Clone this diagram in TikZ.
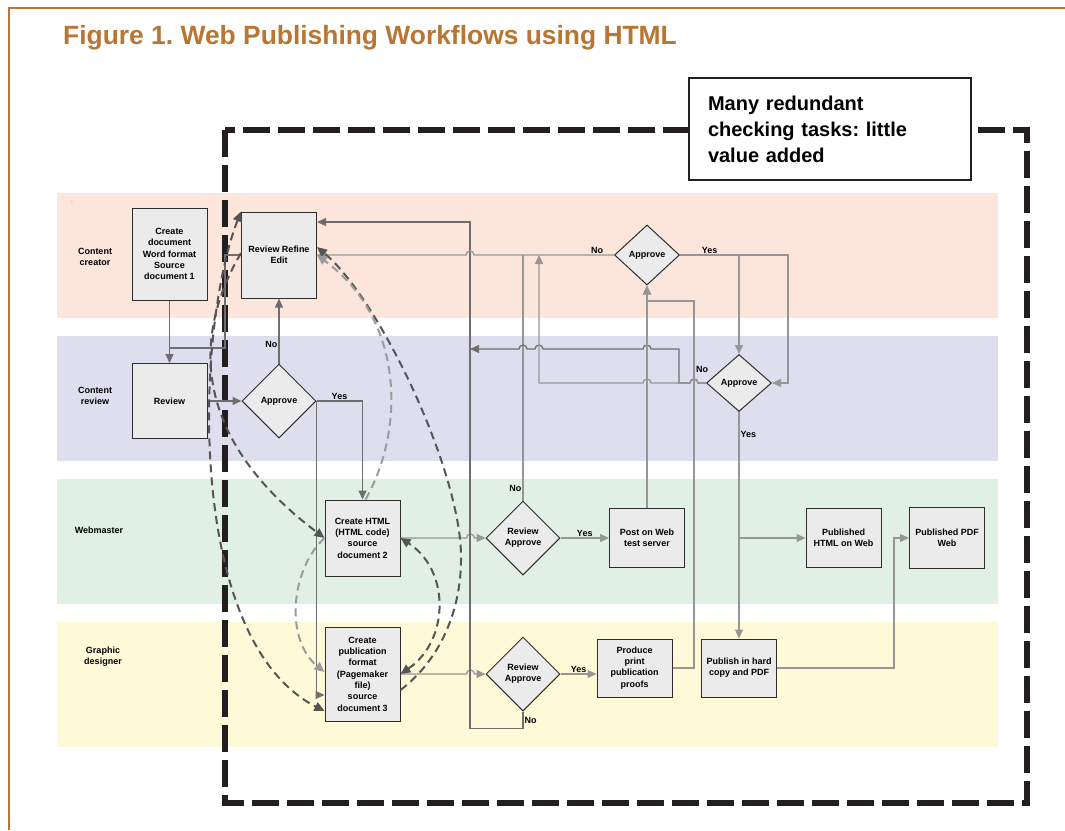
\documentclass[tikz,border=0pt]{standalone}
\usepackage{fontspec}
\setmainfont{Liberation Sans}
\frenchspacing
\usetikzlibrary{shapes.geometric,arrows.meta}

\definecolor{figbrown}{RGB}{185,117,50}
\definecolor{laneA}{RGB}{252,229,218}
\definecolor{laneB}{RGB}{223,222,238}
\definecolor{laneC}{RGB}{224,240,228}
\definecolor{laneD}{RGB}{254,249,214}
\definecolor{boxfill}{RGB}{235,235,235}
\definecolor{boxline}{RGB}{45,45,45}
\definecolor{linedk}{RGB}{110,110,110}
\definecolor{linelt}{RGB}{150,150,150}
\definecolor{curvedk}{RGB}{85,85,85}
\definecolor{curvelt}{RGB}{155,155,155}
\definecolor{framedk}{RGB}{35,31,32}

\begin{document}
\begin{tikzpicture}[x=1pt, y=-1pt, >={Triangle[length=9pt,width=8pt]},
  box/.style = {draw=boxline, fill=boxfill, line width=1pt, minimum width=75pt,
    align=center, inner sep=1pt, font=\fontsize{9}{11.3}\selectfont\bfseries},
  choice/.style = {diamond, draw=boxline, fill=boxfill, line width=1pt, minimum width=74pt,
    minimum height=74pt, inner sep=0pt, align=center, font=\fontsize{9}{11.3}\selectfont\bfseries},
  lbl/.style = {inner sep=1pt, align=center, font=\fontsize{9}{11.3}\selectfont\bfseries},
  flow/.style = {line width=1.3pt, draw=linedk, ->},
  flowlt/.style = {line width=1.3pt, draw=linelt, ->},
  loopdk/.style = {line width=2pt, draw=curvedk, dash pattern=on 8pt off 5pt,
    >={Triangle[length=10pt,width=9pt]}},
  looplt/.style = {line width=2pt, draw=curvelt, dash pattern=on 8pt off 5pt,
    >={Triangle[length=10pt,width=9pt]}}]

\useasboundingbox (0,0) rectangle (1065,830);
\fill[white] (0,0) rectangle (1065,830);
\draw[figbrown, line width=2pt] (9,830) -- (9,7.5) -- (1065,7.5);

\node[anchor=base west, text=figbrown, inner sep=0pt, font=\fontsize{26.4}{30}\selectfont\bfseries]
  (title) at (63,44.5) {Figure 1. Web Publishing Workflows using HTML};

\fill[laneA] (57,193) rectangle (998,318);
\fill[laneB] (57,336) rectangle (998,461);
\fill[laneC] (57,479) rectangle (998,604);
\fill[laneD] (57,622) rectangle (998,747);

\node[lbl] (creator) at (95,257) {Content\\creator};
\node[lbl] (reviewer) at (95,396) {Content\\review};
\node[lbl] (webmaster) at (99,530) {Webmaster};
\node[lbl] (designer) at (103,657) {Graphic\\designer};
\node[lbl, font=\fontsize{5}{5}\selectfont] (dot) at (72,202) {.};

\draw[framedk, line width=6.5pt, dash pattern=on 27pt off 8pt] (225,130) rectangle (1027,803);

\node[box, minimum height=92pt] (create1) at (169.5,254) {Create\\document\\Word format\\Source\\document 1};
\node[box, minimum height=86pt] (refine) at (279,255) {Review Refine\\Edit};
\node[box, minimum height=75pt] (review) at (169.5,401) {Review};
\node[choice] (approve1) at (279,401) {Approve};
\node[box, minimum height=76pt] (html) at (362.5,538) {Create HTML\\(HTML code)\\source\\document 2};
\node[box, minimum height=94pt] (pub) at (362.5,674) {Create\\publication\\format\\(Pagemaker\\file)\\source\\document 3};
\node[choice] (rev2) at (523,538) {Review\\Approve};
\node[choice] (rev3) at (523,674) {Review\\Approve};
\node[box, minimum height=59pt] (post) at (647,538) {Post on Web\\test server};
\node[box, minimum height=58pt] (proofs) at (634.5,668) {Produce\\print\\publication\\proofs};
\node[choice, minimum width=65pt, minimum height=60pt] (approve2) at (647,255) {Approve};
\node[choice, minimum width=65pt, minimum height=57pt] (approve3) at (739,383) {Approve};
\node[box, minimum height=58pt] (hard) at (739,668) {Publish in hard\\copy and PDF};
\node[box, minimum height=59pt] (pubhtml) at (843.5,538) {Published\\HTML on Web};
\node[box, minimum height=61pt] (pubpdf) at (947,538) {Published PDF\\Web};

\coordinate (c1) at (169.5,348);
\coordinate (j1) at (539,255);

\draw[flow] (create1) -- (review);
\draw[flow,-] (c1) -- (225,348) |- (refine.west);
\draw[flow] (review) -- (approve1);
\draw[flow] (approve1) -- node[lbl,left,pos=0.3]{No} (refine);
\draw[flow] (approve1.east) -| node[lbl,above,pos=0.25]{Yes} (html.north);
\draw[flow] (approve1.east) |- ([yshift=-21pt]pub.west);
\draw[flowlt] (html.east) -- ++(66,0) arc[start angle=180,end angle=0,radius=4pt] -- (rev2.west);
\draw[flowlt] (pub.east) -- ++(66,0) arc[start angle=180,end angle=0,radius=4pt] -- (rev3.west);
\draw[flowlt] (rev2) -- node[lbl,above]{Yes} (post);
\draw[flowlt] (rev3) -- node[lbl,above]{Yes} (rev3 -| proofs.west);
\draw[flow] (rev3.south) -- node[lbl,right]{No} ++(0,17) -| (470,222) -- (refine.east |- 0,222);
\draw[flowlt] (approve2.west) -- node[lbl,above,pos=0.12]{No} (474,255)
  arc[start angle=0,end angle=180,radius=4pt] -- (refine.east);
\draw[flowlt,-] (rev2.north) -- node[lbl,left,pos=0.05]{No} (rev2.north |- approve2.west);
\draw[flow] (approve3.west) -- node[lbl,above=9pt]{No} (698,383)
  arc[start angle=0,end angle=180,radius=4pt] -- (679,383) -- (679,349) -- (651,349)
  arc[start angle=0,end angle=180,radius=4pt] -- (543,349)
  arc[start angle=0,end angle=180,radius=4pt] -- (527,349)
  arc[start angle=0,end angle=180,radius=4pt] -- (470,349);
\draw[flowlt] (approve3.west) -- (698,383) arc[start angle=0,end angle=180,radius=4pt] -- (651,383)
  arc[start angle=0,end angle=180,radius=4pt] -- (539,383) -- (j1);
\draw[flowlt] (approve2.east) -| node[lbl,above,pos=0.25]{Yes} (approve3.north);
\draw[flowlt] (approve3.north |- approve2.east) -- (788,255) |- (approve3.east);
\draw[flowlt] (post) -- (approve2);
\draw[flowlt] (proofs.east) -| (694,301) -| (approve2.south);
\draw[flowlt] (approve3) -- node[lbl,right,pos=0.1]{Yes} (hard);
\draw[flowlt] (approve3 |- pubhtml) -- (pubhtml);
\draw[flowlt] (hard.east) -- ++(117,0) |- (pubpdf.west);

\draw[loopdk,<->] (refine.north west) .. controls (195,330) and (185,640) .. ([yshift=-37pt]pub.west);
\draw[loopdk,->] ([yshift=2pt]refine.west) .. controls (190,340) and (195,440) .. (html.west);
\draw[loopdk,->] ([yshift=-16pt]pub.east) .. controls (440,660) and (462,610) .. (461,555)
  .. controls (460,470) and (380,300) .. ([yshift=8pt]refine.east);
\draw[looplt,->] ([xshift=3pt]html.north) .. controls (405,430) and (405,320) .. (refine.east);
\draw[loopdk,<->] (pub.east) .. controls (450,640) and (450,570) .. (html.east);
\draw[looplt,->] (html.west) .. controls (290,570) and (285,640) .. ([yshift=2pt]pub.west);

\node[draw=framedk, fill=white, line width=2pt, minimum width=282pt, minimum height=102pt,
  text width=244pt, inner xsep=19pt, align=left, font=\fontsize{20}{26}\selectfont\bfseries]
  (note) at (830,129) {Many redundant\\checking tasks: little\\value added};
\end{tikzpicture}
\end{document}
